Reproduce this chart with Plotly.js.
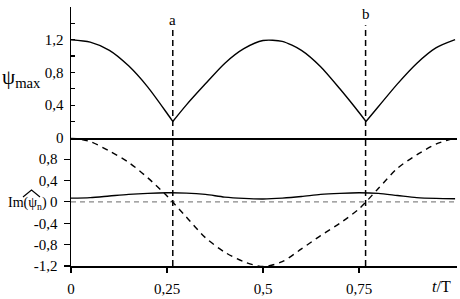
<!DOCTYPE html>
<html>
<head>
<meta charset="utf-8">
<script src="https://cdn.plot.ly/plotly-3.0.1.min.js"></script>
<style>
html,body{margin:0;padding:0;background:#fff;}
#chart{width:460px;height:299px;}
#chart text{font-family:"Liberation Serif","Times New Roman","DejaVu Serif",serif !important;}
</style>
</head>
<body>
<div id="chart"></div>
<script>
// Top panel: psi_max vs t/T
const topT   = [0,0.05,0.1,0.15,0.2,0.25,0.265,0.3,0.35,0.4,0.45,0.5,0.55,0.6,0.65,0.7,0.75,0.768,0.8,0.85,0.9,0.95,1];
const psiMax = [1.20,1.17,1.07,0.88,0.62,0.30,0.20,0.40,0.66,0.91,1.09,1.19,1.18,1.07,0.87,0.60,0.31,0.20,0.38,0.66,0.91,1.10,1.20];

// Bottom panel
const botT    = [0,0.05,0.1,0.15,0.2,0.25,0.3,0.35,0.4,0.45,0.5,0.55,0.6,0.65,0.7,0.75,0.8,0.85,0.9,0.95,1];
const dashedV = [1.20,1.13,0.95,0.74,0.45,0.11,-0.28,-0.67,-0.94,-1.12,-1.21,-1.12,-0.88,-0.63,-0.40,-0.13,0.25,0.63,0.88,1.08,1.20];
const solidV  = [0.07,0.08,0.11,0.14,0.16,0.17,0.165,0.14,0.09,0.065,0.055,0.07,0.10,0.14,0.16,0.17,0.16,0.12,0.08,0.065,0.06];

// Marker lines a, b
const markT = [0.265, 0.767];
const markLabels = ['a','b'];
const markLabelY = [1.44, 1.51];
const markTop = [0.923, 0.93];

// Tick labels
const xTickVals = [0,0.25,0.5,0.75];
const xTickText = ['0','0,25','0,5','0,75'];
const topTickVals = [0,0.2,0.4,0.6,0.8,1.0,1.2,1.4,1.6];
const topTickText = ['0','','0,4','','0,8','','1,2','','1,6'];
const botTickVals = [0.8,0.4,0,-0.4,-0.8,-1.2];
const botTickText = ['0,8','0,4','0','-0,4','-0,8','-1,2'];

const FONT = 'Liberation Serif, DejaVu Serif, serif';

// split the psi_max curve at its sharp minima so each arc can be smoothed
const minIdx = [topT.indexOf(0.265), topT.indexOf(0.768)];
const cuts = [0, minIdx[0], minIdx[1], topT.length - 1];
const traces = [];
for (let k = 0; k < cuts.length - 1; k++) {
  traces.push({x: topT.slice(cuts[k], cuts[k+1] + 1), y: psiMax.slice(cuts[k], cuts[k+1] + 1),
    xaxis:'x2', yaxis:'y2', mode:'lines', line:{color:'#000', width:1.4, shape:'spline', smoothing:0.7}, hoverinfo:'skip'});
}
traces.push({x: botT, y: dashedV, xaxis:'x', yaxis:'y', mode:'lines', line:{color:'#000', width:1.4, dash:'6px,5px', shape:'spline', smoothing:0.8}, hoverinfo:'skip'});
traces.push({x: botT, y: solidV, xaxis:'x', yaxis:'y', mode:'lines', line:{color:'#000', width:1.4, shape:'spline', smoothing:0.8}, hoverinfo:'skip'});

const shapes = [
  {type:'line', xref:'paper', x0:0, x1:1, yref:'y', y0:0, y1:0, line:{color:'#888', width:1.2, dash:'5px,4px'}, layer:'below'},
  // hat over psi in the Im label
  {type:'path', xref:'paper', yref:'paper', path:'M -0.1244 0.2664 L -0.1023 0.2934 L -0.0803 0.2664', line:{color:'#000', width:1.1}}
];
markT.forEach((t,i)=>{
  shapes.push({type:'line', xref:'x', x0:t, x1:t, yref:'paper', y0:0, y1:markTop[i], line:{color:'#000', width:1.5, dash:'6px,4px'}});
});

const annotations = markT.map((t,i)=>({
  x:t, y:markLabelY[i], xref:'x2', yref:'y2', text:markLabels[i], showarrow:false,
  font:{family:FONT, size:15, color:'#000'}, xanchor:'center', yanchor:'middle'
}));
annotations.push({xref:'paper', yref:'paper', x:-0.073, y:0.726, xanchor:'right', yanchor:'middle',
  text:'ψ<sub>max</sub>', showarrow:false, font:{family:FONT, size:21, color:'#000'}});
annotations.push({xref:'paper', yref:'paper', x:-0.057, y:0.243, xanchor:'right', yanchor:'middle',
  text:'Im(ψ<sub>n</sub>)', showarrow:false, font:{family:FONT, size:14, color:'#000'}});
annotations.push({xref:'paper', yref:'paper', x:0.961, y:-0.08, xanchor:'center', yanchor:'middle',
  text:'<i>t</i>/T', showarrow:false, font:{family:FONT, size:16, color:'#000'}});

const layout = {
  width:460, height:299,
  margin:{l:71, r:3, t:7, b:33},
  paper_bgcolor:'#fff', plot_bgcolor:'#fff',
  showlegend:false,
  font:{family:FONT, size:14, color:'#000'},
  xaxis:{domain:[0,1], range:[0,1.005], anchor:'y', showline:true, linewidth:1.5, linecolor:'#000',
    ticks:'outside', ticklen:5, tickwidth:1.2, tickcolor:'#000', tickvals:xTickVals, ticktext:xTickText,
    showgrid:false, zeroline:false, ticklabelstandoff:3, tickfont:{family:FONT, size:15}},
  xaxis2:{matches:'x', anchor:'y2', showline:true, linewidth:2, linecolor:'#000', showticklabels:false,
    ticks:'', showgrid:false, zeroline:false},
  yaxis:{domain:[0,0.495], range:[-1.2,1.2], anchor:'x', showline:true, linewidth:1.5, linecolor:'#000',
    ticks:'outside', ticklen:6, tickwidth:1.2, tickcolor:'#000', tickvals:botTickVals, ticktext:botTickText,
    showgrid:false, zeroline:false, ticklabelstandoff:3, tickfont:{family:FONT, size:15}},
  yaxis2:{domain:[0.495,1], range:[0,1.6], anchor:'x2', showline:true, linewidth:1.5, linecolor:'#000',
    ticks:'inside', ticklen:4, tickwidth:1.2, tickcolor:'#000', tickvals:topTickVals, ticktext:topTickText,
    showgrid:false, zeroline:false, ticklabelstandoff:3, tickfont:{family:FONT, size:15}},
  shapes:shapes,
  annotations:annotations
};

Plotly.newPlot('chart', traces, layout, {staticPlot:true, displayModeBar:false});
</script>
</body>
</html>
